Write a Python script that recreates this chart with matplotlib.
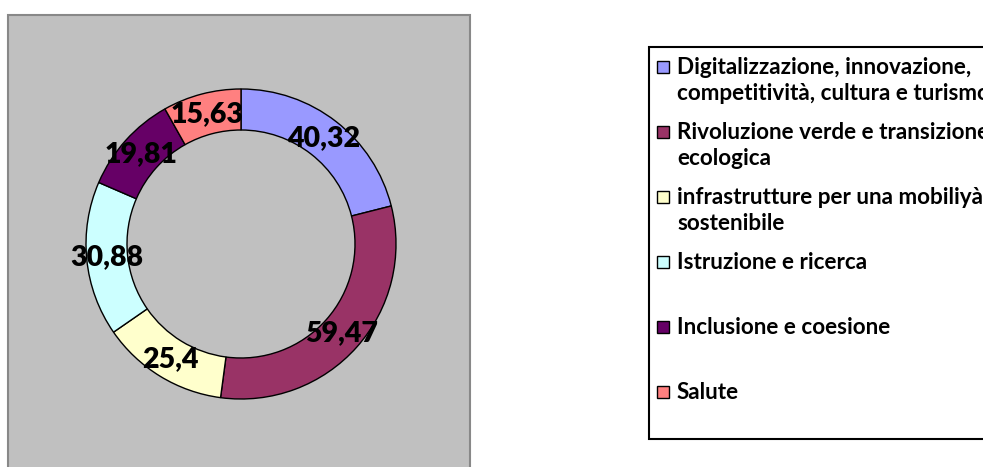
import numpy as np
import matplotlib
matplotlib.use("Agg")
import matplotlib.pyplot as plt
from matplotlib.patches import Rectangle

categories = [
    "Digitalizzazione, innovazione,\ncompetitività, cultura e turismo",
    "Rivoluzione verde e transizione\necologica",
    "infrastrutture per una mobiliyà\nsostenibile",
    "Istruzione e ricerca",
    "Inclusione e coesione",
    "Salute",
]
values = [40.32, 59.47, 25.4, 30.88, 19.81, 15.63]
value_labels = ["40,32", "59,47", "25,4", "30,88", "19,81", "15,63"]
colors = ["#9999FF", "#993366", "#FFFFCC", "#CCFFFF", "#660066", "#FF8080"]

W, H = 983, 467
fig = plt.figure(figsize=(W / 100, H / 100), dpi=100)
ax = fig.add_axes([0, 0, 1, 1])

FONT = "Lato"

def Y(y):
    return H - y

# plot area background
ax.add_patch(Rectangle((8, Y(475)), 462, 475 - 15, facecolor="#C0C0C0",
                       edgecolor="#888888", linewidth=1.5, zorder=0))

cx, cy, R, wd = 241, 244, 155, 41
wedges, _ = ax.pie(values, colors=colors, startangle=90, counterclock=False,
                   center=(cx, Y(cy)), radius=R,
                   wedgeprops=dict(width=wd, edgecolor="black", linewidth=1.0))

total = sum(values)
cum = 0.0
rmid = R - wd / 2
for v, lab in zip(values, value_labels):
    mid = cum + v / 2
    ang = np.deg2rad(90 - 360 * mid / total)
    cum += v
    ax.text(cx + rmid * np.cos(ang), Y(cy) + rmid * np.sin(ang), lab,
            ha="center", va="center", fontsize=20.5, fontweight="heavy",
            family=FONT, color="black", zorder=5)

# legend box
ax.add_patch(Rectangle((649, Y(439)), 400, 439 - 47, facecolor="white",
                       edgecolor="black", linewidth=1.5, zorder=1, clip_on=False))
entry_y = [67, 132, 197, 262, 327, 392]
for ey, c, name in zip(entry_y, colors, categories):
    ax.add_patch(Rectangle((656.5, Y(ey) - 6), 12, 12, facecolor=c,
                           edgecolor="black", linewidth=1.0, zorder=3))
    ax.text(677, Y(ey) + 10, name, ha="left", va="top", fontsize=16.2,
            fontweight="bold", family=FONT, linespacing=1.3, zorder=3)

ax.set_xlim(0, W)
ax.set_ylim(0, H)
ax.set_aspect("auto")
ax.axis("off")
fig.savefig("out.png", dpi=100)
